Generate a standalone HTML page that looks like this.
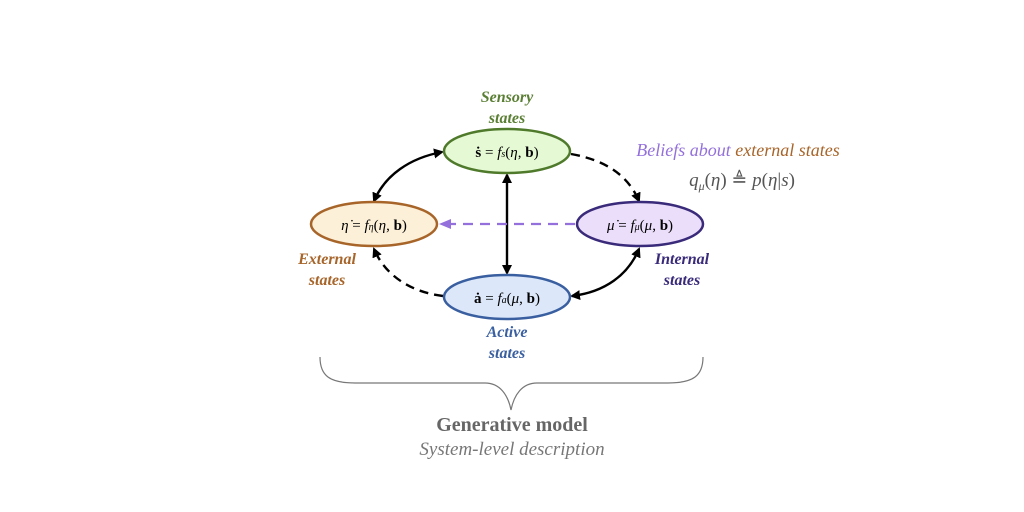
<!DOCTYPE html>
<html><head><meta charset="utf-8"><style>
html,body{margin:0;padding:0;background:#fff;width:1024px;height:512px;overflow:hidden}
svg{display:block}
text{font-family:"Liberation Serif",serif}
</style></head><body>
<svg width="1024" height="512" viewBox="0 0 1024 512" xmlns="http://www.w3.org/2000/svg">
<defs>
<marker id="ab" markerWidth="10" markerHeight="10" refX="8" refY="5" orient="auto-start-reverse" markerUnits="userSpaceOnUse"><path d="M0,0 L10,5 L0,10 z" fill="#000"/></marker>
<marker id="ap" markerWidth="12" markerHeight="10" refX="10" refY="5" orient="auto" markerUnits="userSpaceOnUse"><path d="M0,0 L12,5 L0,10 z" fill="#9370db"/></marker>
</defs>
<!-- connectors -->
<path d="M442,152 C410,158 385,175 374,201" fill="none" stroke="#000" stroke-width="2.4" marker-start="url(#ab)" marker-end="url(#ab)"/>
<path d="M571,154 C605,160 628,175 639,201" fill="none" stroke="#000" stroke-width="2.4" stroke-dasharray="9,6" marker-end="url(#ab)"/>
<path d="M507,175 L507,273" fill="none" stroke="#000" stroke-width="2.4" marker-start="url(#ab)" marker-end="url(#ab)"/>
<path d="M443,296 C410,292 385,275 374,249" fill="none" stroke="#000" stroke-width="2.4" stroke-dasharray="9,6" marker-end="url(#ab)"/>
<path d="M572,296 C605,292 628,275 639,249" fill="none" stroke="#000" stroke-width="2.4" marker-start="url(#ab)" marker-end="url(#ab)"/>
<path d="M575,224 L441,224" fill="none" stroke="#9370db" stroke-width="2.2" stroke-dasharray="10,7" marker-end="url(#ap)"/>
<!-- ellipses -->
<ellipse cx="507" cy="151" rx="63" ry="22" fill="#e6f9d5" stroke="#4f7a2b" stroke-width="2.5"/>
<ellipse cx="374" cy="224" rx="63" ry="22" fill="#fdf0d9" stroke="#a8652a" stroke-width="2.5"/>
<ellipse cx="640" cy="224" rx="63" ry="22" fill="#ebdefa" stroke="#3a2a7a" stroke-width="2.5"/>
<ellipse cx="507" cy="297" rx="63" ry="22" fill="#dce8fa" stroke="#3a5fa0" stroke-width="2.5"/>
<!-- ellipse texts -->
<text x="507" y="157" font-size="15" text-anchor="middle"><tspan font-weight="bold">ṡ</tspan> = <tspan font-style="italic">f</tspan><tspan font-size="10" font-style="italic">s</tspan>(<tspan font-style="italic">η</tspan>, <tspan font-weight="bold">b</tspan>)</text>
<text x="374" y="230" font-size="15" text-anchor="middle"><tspan font-style="italic">η̇</tspan> = <tspan font-style="italic">f</tspan><tspan font-size="10" font-style="italic">η</tspan>(<tspan font-style="italic">η</tspan>, <tspan font-weight="bold">b</tspan>)</text>
<text x="640" y="230" font-size="15" text-anchor="middle"><tspan font-style="italic">μ̇</tspan> = <tspan font-style="italic">f</tspan><tspan font-size="10" font-style="italic">μ</tspan>(<tspan font-style="italic">μ</tspan>, <tspan font-weight="bold">b</tspan>)</text>
<text x="507" y="303" font-size="15" text-anchor="middle"><tspan font-weight="bold">ȧ</tspan> = <tspan font-style="italic">f</tspan><tspan font-size="10" font-style="italic">a</tspan>(<tspan font-style="italic">μ</tspan>, <tspan font-weight="bold">b</tspan>)</text>
<!-- labels -->
<g font-size="16" font-weight="bold" font-style="italic" text-anchor="middle">
<text x="507" y="102" fill="#5a7f34">Sensory</text>
<text x="507" y="123" fill="#5a7f34">states</text>
<text x="327" y="264" fill="#a8652a">External</text>
<text x="327" y="285" fill="#a8652a">states</text>
<text x="682" y="264" fill="#3a2a7a">Internal</text>
<text x="682" y="285" fill="#3a2a7a">states</text>
<text x="507" y="337" fill="#3a5fa0">Active</text>
<text x="507" y="358" fill="#3a5fa0">states</text>
</g>
<text x="738" y="156" font-size="18" font-style="italic" text-anchor="middle"><tspan fill="#9370db">Beliefs about </tspan><tspan fill="#a8652a">external states</tspan></text>
<text x="742" y="186" font-size="19" fill="#555" text-anchor="middle"><tspan font-style="italic">q</tspan><tspan font-size="12" font-style="italic" dy="4">μ</tspan><tspan dy="-4">(</tspan><tspan font-style="italic">η</tspan>) ≜ <tspan font-style="italic">p</tspan>(<tspan font-style="italic">η</tspan>|<tspan font-style="italic">s</tspan>)</text>
<!-- brace -->
<path d="M320,357 C320,376 330,383 355,383 L485,383 C500,383 508,395 511,410 C514,395 522,383 537,383 L668,383 C693,383 703,376 703,357" fill="none" stroke="#777" stroke-width="1.2"/>
<text x="512" y="431" font-size="20" font-weight="bold" fill="#666" text-anchor="middle">Generative model</text>
<text x="512" y="455" font-size="19" font-style="italic" fill="#777" text-anchor="middle">System-level description</text>
</svg>
</body></html>
